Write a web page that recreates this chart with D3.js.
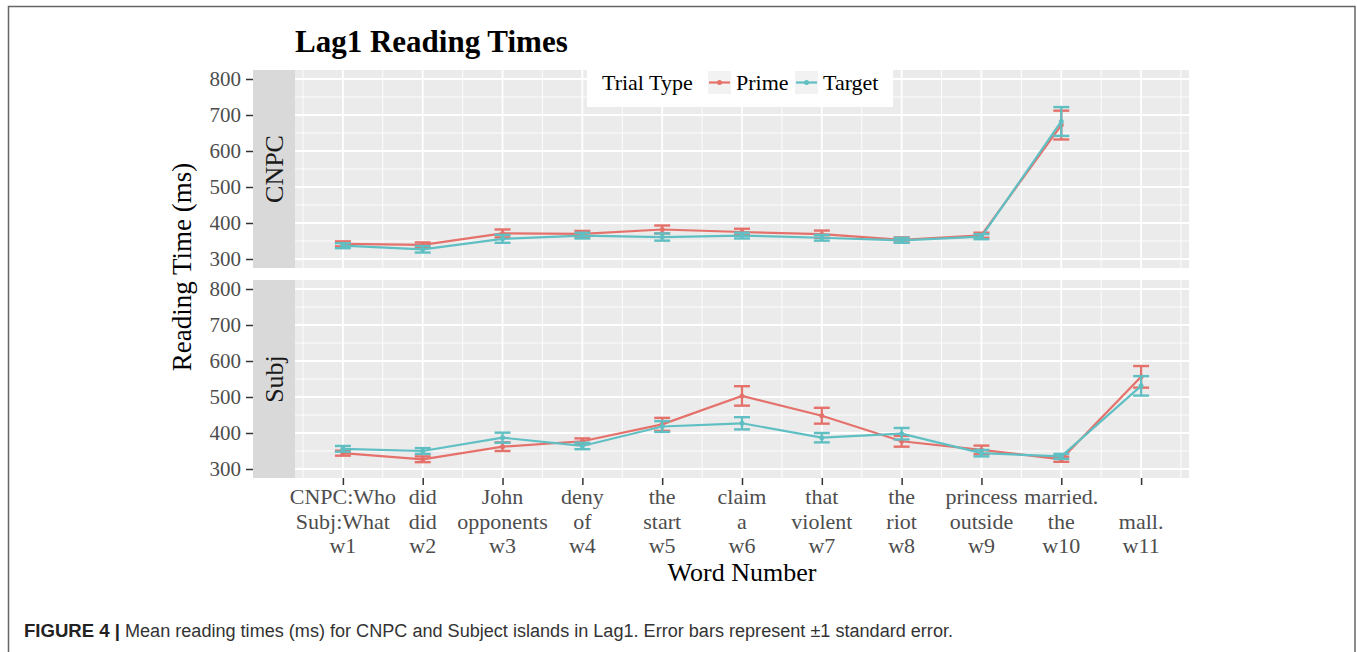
<!DOCTYPE html>
<html><head><meta charset="utf-8">
<script src="https://cdn.jsdelivr.net/npm/d3@7"></script>
<style>body{margin:0;background:#fff}svg{display:block}</style>
</head><body>
<svg id="c" width="1357" height="652"></svg>
<script>
const words = [1,2,3,4,5,6,7,8,9,10,11];
const labelLine1 = ["CNPC:Who","did","John","deny","the","claim","that","the","princess","married.",""];
const labelLine2 = ["Subj:What","did","opponents","of","start","a","violent","riot","outside","the","mall."];
const labelLine3 = ["w1","w2","w3","w4","w5","w6","w7","w8","w9","w10","w11"];
const yTicks = [300,400,500,600,700,800];
const panels = ["CNPC","Subj"];
const seriesNames = ["Prime","Target"];
// CNPC (w1-w10)
const cnpcPrime = [342,339,371,370,382,375,369,353,366,672];
const cnpcPrimeSE = [7,7,11,8,11,9,10,7,7,40];
const cnpcTarget = [337,327,356,365,361,365,359,352,362,682];
const cnpcTargetSE = [7,9,11,8,10,8,8,7,7,40];
// Subj (w1-w11)
const subjPrime = [344,327,362,377,424,503,448,377,353,327,556];
const subjPrimeSE = [7,8,12,8,18,27,22,15,12,7,30];
const subjTarget = [356,350,387,364,418,427,387,398,344,335,531];
const subjTargetSE = [8,8,14,9,15,17,13,16,9,7,27];

const colors = {Prime:"#E5716B", Target:"#5FBFC3"};
const serif = "'Liberation Serif','Times New Roman',serif";

const data = {
  CNPC: {Prime: cnpcPrime.map((v,i)=>({x:words[i],y:v,se:cnpcPrimeSE[i]})),
         Target: cnpcTarget.map((v,i)=>({x:words[i],y:v,se:cnpcTargetSE[i]}))},
  Subj: {Prime: subjPrime.map((v,i)=>({x:words[i],y:v,se:subjPrimeSE[i]})),
         Target: subjTarget.map((v,i)=>({x:words[i],y:v,se:subjTargetSE[i]}))}
};

const svg = d3.select("#c");
// outer border
svg.append("rect").attr("x",8.5).attr("y",6.5).attr("width",1346.5).attr("height",660)
  .attr("fill","none").attr("stroke","#666").attr("stroke-width",1.5);

const panelLeft = 295, panelRight = 1189, stripLeft = 253;
const panelTops = [70, 280], panelH = 198;
const x = d3.scaleLinear().domain([0.4,11.6]).range([panelLeft,panelRight]);

// title
svg.append("text").attr("x",295).attr("y",52).attr("font-family",serif)
  .attr("font-weight","bold").attr("font-size",31).attr("fill","#000").text("Lag1 Reading Times");

panels.forEach((p,pi)=>{
  const top = panelTops[pi];
  const y = d3.scaleLinear().domain([275,825]).range([top+panelH, top]);
  const g = svg.append("g");
  g.append("rect").attr("x",panelLeft).attr("y",top).attr("width",panelRight-panelLeft)
    .attr("height",panelH).attr("fill","#EBEBEB");
  // strip
  g.append("rect").attr("x",stripLeft).attr("y",top).attr("width",panelLeft-stripLeft)
    .attr("height",panelH).attr("fill","#D9D9D9");
  g.append("text").attr("transform",`translate(283,${top+panelH/2}) rotate(-90)`)
    .attr("text-anchor","middle").attr("font-family",serif).attr("font-size",26)
    .attr("fill","#1a1a1a").text(p);
  // minor grid
  const yMinor = d3.range(350,800,100);
  g.selectAll(".ymin").data(yMinor).join("line")
    .attr("x1",panelLeft).attr("x2",panelRight).attr("y1",d=>y(d)).attr("y2",d=>y(d))
    .attr("stroke","#fff").attr("stroke-width",0.9);
  const xMinor = d3.range(0.5,12,1);
  g.selectAll(".xmin").data(xMinor).join("line")
    .attr("y1",top).attr("y2",top+panelH).attr("x1",d=>x(d)).attr("x2",d=>x(d))
    .attr("stroke","#fff").attr("stroke-width",0.9);
  // major grid
  g.selectAll(".ymaj").data(yTicks).join("line")
    .attr("x1",panelLeft).attr("x2",panelRight).attr("y1",d=>y(d)).attr("y2",d=>y(d))
    .attr("stroke","#fff").attr("stroke-width",1.8);
  g.selectAll(".xmaj").data(words).join("line")
    .attr("y1",top).attr("y2",top+panelH).attr("x1",d=>x(d)).attr("x2",d=>x(d))
    .attr("stroke","#fff").attr("stroke-width",1.8);
  // y axis
  const ya = svg.append("g").attr("transform",`translate(${stripLeft},0)`)
    .call(d3.axisLeft(y).tickValues(yTicks).tickSize(7).tickPadding(5).tickFormat(d3.format("d")));
  ya.select(".domain").remove();
  ya.selectAll("line").attr("stroke","#333").attr("stroke-width",1.5);
  ya.selectAll("text").attr("font-family",serif).attr("font-size",21).attr("fill","#4D4D4D");
  // series
  const line = d3.line().x(d=>x(d.x)).y(d=>y(d.y));
  seriesNames.forEach(s=>{
    const d = data[p][s];
    const c = colors[s];
    const sg = g.append("g");
    sg.append("path").attr("d",line(d)).attr("fill","none").attr("stroke",c).attr("stroke-width",2.2);
    const hw = 0.1*(x(2)-x(1));
    const eb = sg.selectAll(".eb").data(d).join("g");
    eb.append("line").attr("x1",e=>x(e.x)).attr("x2",e=>x(e.x)).attr("y1",e=>y(e.y-e.se)).attr("y2",e=>y(e.y+e.se))
      .attr("stroke",c).attr("stroke-width",2.2);
    eb.append("line").attr("x1",e=>x(e.x)-hw).attr("x2",e=>x(e.x)+hw).attr("y1",e=>y(e.y-e.se)).attr("y2",e=>y(e.y-e.se))
      .attr("stroke",c).attr("stroke-width",2.4);
    eb.append("line").attr("x1",e=>x(e.x)-hw).attr("x2",e=>x(e.x)+hw).attr("y1",e=>y(e.y+e.se)).attr("y2",e=>y(e.y+e.se))
      .attr("stroke",c).attr("stroke-width",2.4);
    sg.selectAll("circle").data(d).join("circle").attr("cx",e=>x(e.x)).attr("cy",e=>y(e.y))
      .attr("r",2.5).attr("fill",c);
  });
});

// x axis
const bottom = panelTops[1]+panelH;
const xa = svg.append("g").attr("transform",`translate(0,${bottom})`)
  .call(d3.axisBottom(x).tickValues(words).tickSize(7).tickFormat(""));
xa.select(".domain").remove();
xa.selectAll("line").attr("stroke","#333").attr("stroke-width",1.5);
const lbl = svg.append("g").attr("font-family",serif).attr("font-size",22).attr("fill","#4D4D4D")
  .attr("text-anchor","middle");
[labelLine1,labelLine2,labelLine3].forEach((arr,li)=>{
  lbl.selectAll(".l"+li).data(words).join("text")
    .attr("x",d=>x(d)).attr("y",504+li*24.5).text((d,i)=>arr[i]);
});

// axis titles
svg.append("text").attr("x",(panelLeft+panelRight)/2).attr("y",581).attr("text-anchor","middle")
  .attr("font-family",serif).attr("font-size",26).attr("fill","#000").text("Word Number");
svg.append("text").attr("transform","translate(191,267) rotate(-90)").attr("text-anchor","middle")
  .attr("font-family",serif).attr("font-size",27).attr("fill","#000").text("Reading Time (ms)");

// legend
const lg = svg.append("g");
lg.append("rect").attr("x",587).attr("y",60).attr("width",306).attr("height",47).attr("fill","#fff");
lg.append("text").attr("x",602).attr("y",90).attr("font-family",serif).attr("font-size",22)
  .attr("fill","#000").text("Trial Type");
const keyX = [708,795], txtX = [736,823];
seriesNames.forEach((s,i)=>{
  lg.append("rect").attr("x",keyX[i]).attr("y",71).attr("width",23).attr("height",23).attr("fill","#F2F2F2");
  lg.append("line").attr("x1",keyX[i]+1).attr("x2",keyX[i]+22).attr("y1",82.5).attr("y2",82.5)
    .attr("stroke",colors[s]).attr("stroke-width",2.2);
  lg.append("circle").attr("cx",keyX[i]+11.5).attr("cy",82.5).attr("r",2.5).attr("fill",colors[s]);
  lg.append("text").attr("x",txtX[i]).attr("y",90).attr("font-family",serif).attr("font-size",22)
    .attr("fill","#000").text(s);
});

// caption
svg.append("text").attr("x",24).attr("y",637).attr("font-family","'Liberation Sans',Arial,sans-serif")
  .attr("font-weight","bold").attr("font-size",18).attr("fill","#222")
  .attr("textLength",96).attr("lengthAdjust","spacingAndGlyphs").text("FIGURE 4 |");
svg.append("text").attr("x",125).attr("y",637).attr("font-family","'Liberation Sans',Arial,sans-serif")
  .attr("font-size",18).attr("fill","#333")
  .attr("textLength",828).attr("lengthAdjust","spacingAndGlyphs")
  .text("Mean reading times (ms) for CNPC and Subject islands in Lag1. Error bars represent \u00B11 standard error.");
</script>
</body></html>
